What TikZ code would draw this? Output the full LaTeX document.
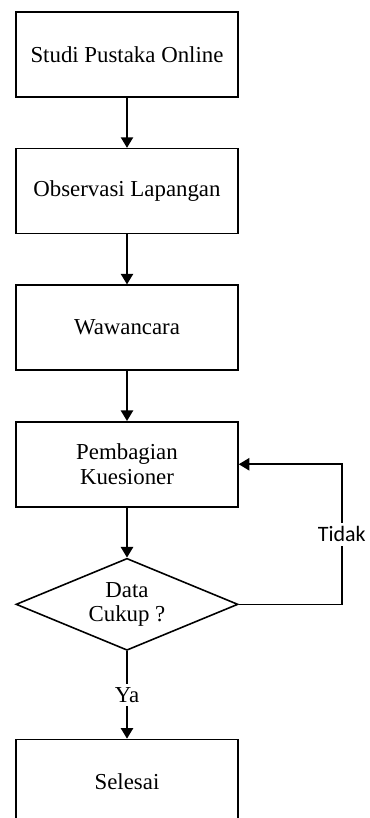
\documentclass[tikz,border=0pt]{standalone}
\usepackage{fontspec}
\setmainfont{Liberation Serif}
\newfontfamily\labelfont{Carlito}
\usepackage{tikz}
\usetikzlibrary{shapes.geometric, arrows.meta, positioning}
\tikzstyle{process} = [rectangle, minimum width=4.44cm, minimum height=1.7cm, text centered, align=center, draw=black, line width=0.9pt, font=\fontsize{13}{14}\selectfont]
\tikzstyle{decision} = [diamond, aspect=2.4, minimum width=4.44cm, minimum height=1.84cm, inner sep=0pt, text centered, align=center, draw=black, line width=0.9pt, font=\fontsize{13}{14}\selectfont]
\tikzstyle{arrow} = [line width=0.9pt,-{Triangle[width=7pt,length=6pt]}]
\tikzstyle{answer} = [fill=white, inner sep=2pt]

\begin{document}
\begin{tikzpicture}[node distance=1.0cm]
        \useasboundingbox (-2.54,1.09) rectangle (4.86,-15.27);

        \node (pustaka) [process] {Studi Pustaka Online};
        \node (observasi) [process, below=of pustaka] {Observasi Lapangan};
        \node (wawancara) [process, below=of observasi] {Wawancara};
        \node (kuesioner) [process, below=of wawancara] {Pembagian\\Kuesioner};
        \node (cukup) [decision, below=of kuesioner] {Data\\Cukup ?};
        \node (selesai) [process, below=1.75cm of cukup] {Selesai};
        \coordinate (belok) at ([xshift=2.06cm]cukup.east);

        \draw [arrow] (pustaka) -- (observasi);
        \draw [arrow] (observasi) -- (wawancara);
        \draw [arrow] (wawancara) -- (kuesioner);
        \draw [arrow] (kuesioner) -- (cukup);
        \draw [arrow] (cukup) -- node[answer, font=\fontsize{13}{14}\selectfont] {Ya} (selesai);
        \draw [arrow] (cukup.east) -- (belok) |- node[answer, pos=0.25, font=\labelfont\fontsize{12.5}{13.5}\selectfont] {Tidak} (kuesioner.east);
    \end{tikzpicture}
\end{document}
